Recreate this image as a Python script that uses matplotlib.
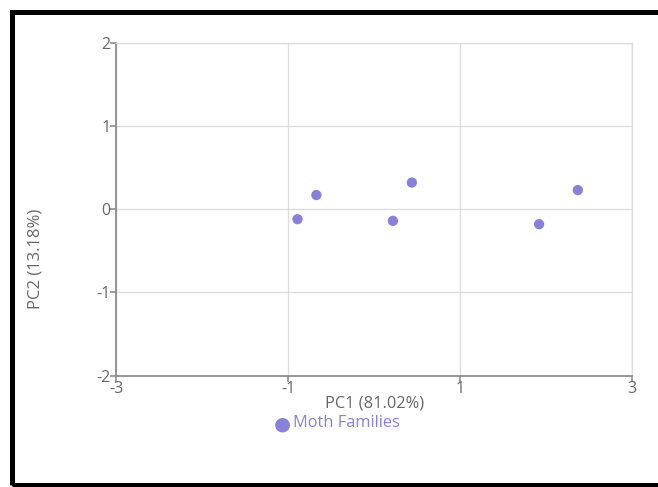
import matplotlib
matplotlib.use("Agg")
import matplotlib.pyplot as plt
from matplotlib.patches import Rectangle

pc1 = [-0.67, -0.89, 0.44, 0.22, 1.92, 2.37]
pc2 = [0.17, -0.12, 0.32, -0.14, -0.18, 0.23]
series_name = "Moth Families"
x_label = "PC1 (81.02%)"
y_label = "PC2 (13.18%)"
x_ticks = [-3, -1, 1, 3]
y_ticks = [-2, -1, 0, 1, 2]

plt.rcParams['font.family'] = ['Open Sans', 'DejaVu Sans']
W, H = 658, 487
fig = plt.figure(figsize=(W / 100, H / 100), dpi=100)

def fx(px):
    return px / W

def fy(py):
    return 1 - py / H

# outer black frame
fig.patches.append(Rectangle((fx(12), fy(485)), fx(700) - fx(12), fy(12) - fy(485),
                             transform=fig.transFigure, fill=False,
                             edgecolor='black', linewidth=3.6, zorder=10))

ax = fig.add_axes([fx(116), fy(375.7), fx(632) - fx(116), fy(42.7) - fy(375.7)])
color = '#8a80d9'
ax.scatter(pc1, pc2, s=55, color=color, edgecolors='none', zorder=3, clip_on=False)

ax.set_xlim(-3, 3)
ax.set_ylim(-2, 2)
ax.set_xticks(x_ticks)
ax.set_yticks(y_ticks)
ax.set_xticklabels([str(t) for t in x_ticks])
ax.set_yticklabels([str(t) for t in y_ticks])
ax.grid(True, color='#dddddd', linewidth=1)
ax.set_axisbelow(True)
for s in ['top', 'right']:
    ax.spines[s].set_color('#dddddd')
    ax.spines[s].set_linewidth(1)
for s in ['left', 'bottom']:
    ax.spines[s].set_color('#8c8c8c')
    ax.spines[s].set_linewidth(1.3)
ax.tick_params(axis='both', colors='#8c8c8c', length=4, width=1.2,
               labelcolor='#666666', labelsize=11.5, pad=0)

fig.text(fx(375), fy(404), x_label, ha='center', va='center', color='#666666', fontsize=11.8)
fig.text(fx(36), fy(259), y_label, ha='center', va='center', rotation=90,
         color='#666666', fontsize=12)

# legend
fig.text(fx(282), fy(424), '\u25CF', ha='center', va='center', color=color, fontsize=14,
         family=['DejaVu Sans'])
fig.text(fx(293), fy(423), series_name, ha='left', va='center', color=color, fontsize=11.8)

fig.savefig('out.png', dpi=100)
